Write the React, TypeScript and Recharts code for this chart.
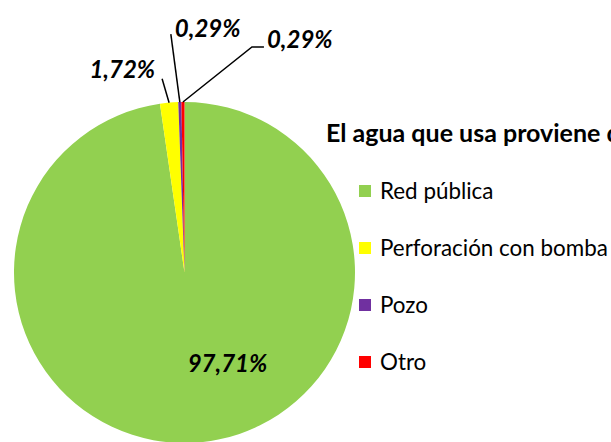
import { PieChart, Pie, Cell } from 'recharts'

const categories = ['Red pública', 'Perforación con bomba', 'Pozo', 'Otro']
const shares = [97.71, 1.72, 0.29, 0.29]
const labels = ['97,71%', '1,72%', '0,29%', '0,29%']
const colors = ['#92D050', '#FFFF00', '#7030A0', '#FF0000']

const data = categories.map((name, i) => ({ name, value: shares[i], label: labels[i] }))

const FONT = 'Lato, "Open Sans", sans-serif'
const RADIAN = Math.PI / 180

// label placement relative to the slice's outer edge point (leader lines for tiny slices)
const placement = [
  { inside: true, dx: 43, dy: 90 },
  { inside: false, path: [[-7, -24]], tx: -14, ty: -34, anchor: 'end' },
  { inside: false, path: [[-9, -68]], tx: -5, ty: -75, anchor: 'start' },
  { inside: false, path: [[69, -55], [81, -55]], tx: 84, ty: -64, anchor: 'start' },
]

function renderLabel(props: any) {
  const { cx, cy, midAngle, outerRadius, index } = props
  const p = placement[index]
  const txt = labels[index]
  const style = { fontFamily: FONT, fontSize: 24, fontWeight: 700, fontStyle: 'italic' as const }
  if (p.inside) {
    return (
      <text x={cx + (p.dx as number)} y={cy + (p.dy as number)} textAnchor="middle" dominantBaseline="central" fill="#000" style={style}>
        {txt}
      </text>
    )
  }
  const ex = cx + outerRadius * Math.cos(-midAngle * RADIAN)
  const ey = cy + outerRadius * Math.sin(-midAngle * RADIAN)
  const pts = [[ex, ey], ...(p.path as number[][]).map(([dx, dy]) => [ex + dx, ey + dy])]
  return (
    <g>
      <polyline points={pts.map(q => q.join(',')).join(' ')} fill="none" stroke="#000" strokeWidth={1.5} />
      <text x={ex + (p.tx as number)} y={ey + (p.ty as number)} textAnchor={p.anchor as any} dominantBaseline="central" fill="#000" style={style}>
        {txt}
      </text>
    </g>
  )
}

export default function App() {
  return (
    <div style={{ position: 'absolute', left: 0, top: 0, width: 611, height: 442, overflow: 'hidden', background: '#fff' }}>
      <PieChart width={611} height={442} margin={{ top: 0, right: 0, bottom: 0, left: 0 }}>
        <Pie
          data={data}
          dataKey="value"
          nameKey="name"
          cx={184.5}
          cy={272.5}
          outerRadius={170.5}
          startAngle={90}
          endAngle={-270}
          stroke="none"
          label={renderLabel}
          labelLine={false}
          isAnimationActive={false}
        >
          {data.map((d, i) => (
            <Cell key={d.name} fill={colors[i]} />
          ))}
        </Pie>
      </PieChart>
      <div style={{ position: 'absolute', left: 326, top: 117, fontFamily: FONT, fontWeight: 700, fontSize: 25, lineHeight: '30px', whiteSpace: 'nowrap', color: '#000' }}>
        El agua que usa proviene de:
      </div>
      <div style={{ position: 'absolute', left: 359, top: 162, fontFamily: FONT, color: '#000' }}>
        {categories.map((c, i) => (
          <div key={c} style={{ display: 'flex', alignItems: 'center', height: 57, fontSize: 22.4, whiteSpace: 'nowrap' }}>
            <span style={{ display: 'inline-block', width: 12, height: 12, background: colors[i], marginRight: 9 }} />
            {c}
          </div>
        ))}
      </div>
    </div>
  )
}
